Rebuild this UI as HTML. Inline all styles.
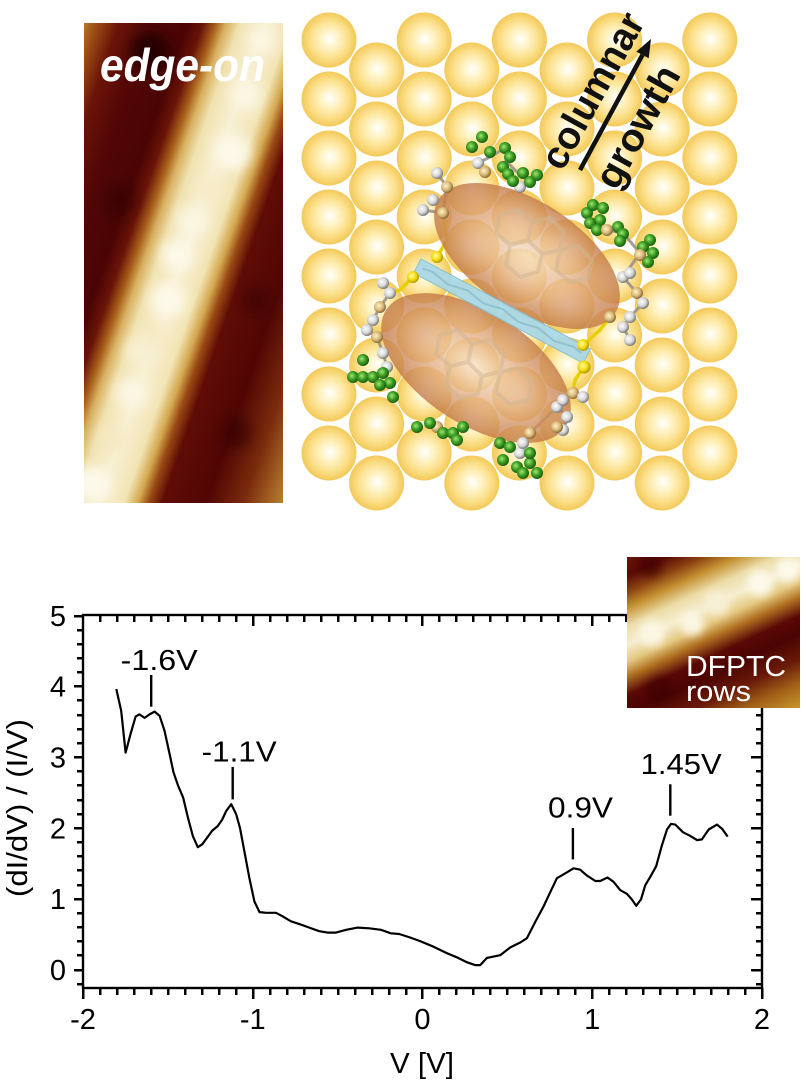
<!DOCTYPE html>
<html><head><meta charset="utf-8">
<style>
html,body{margin:0;padding:0;background:#fff;}
svg{display:block;}
text{font-family:"Liberation Sans",Arial,sans-serif;}
</style></head><body>
<svg width="806" height="1090" viewBox="0 0 806 1090" xmlns="http://www.w3.org/2000/svg" xmlns:xlink="http://www.w3.org/1999/xlink">
<defs>
 <radialGradient id="au" cx="0.5" cy="0.5" r="0.5" fx="0.52" fy="0.48">
  <stop offset="0" stop-color="#ffffff"/>
  <stop offset="0.12" stop-color="#fffbe8"/>
  <stop offset="0.38" stop-color="#fff0bc"/>
  <stop offset="0.68" stop-color="#fbe08c"/>
  <stop offset="0.9" stop-color="#f6d068"/>
  <stop offset="1" stop-color="#f2c858"/>
 </radialGradient>
 <circle id="s" r="27.5" fill="url(#au)"/>
 <radialGradient id="el" cx="0.5" cy="0.5" r="0.5">
  <stop offset="0" stop-color="#f6e0c6"/>
  <stop offset="0.5" stop-color="#e4b086"/>
  <stop offset="1" stop-color="#c27a48"/>
 </radialGradient>
 <radialGradient id="gr" cx="0.4" cy="0.4" r="0.6">
  <stop offset="0" stop-color="#9ee870"/>
  <stop offset="0.55" stop-color="#3c9c24"/>
  <stop offset="1" stop-color="#1a5e10"/>
 </radialGradient>
 <radialGradient id="wh" cx="0.4" cy="0.4" r="0.6">
  <stop offset="0" stop-color="#ffffff"/>
  <stop offset="0.6" stop-color="#d6d6d6"/>
  <stop offset="1" stop-color="#7a7a7a"/>
 </radialGradient>
 <radialGradient id="tn" cx="0.4" cy="0.4" r="0.6">
  <stop offset="0" stop-color="#fff2c8"/>
  <stop offset="0.6" stop-color="#d8b878"/>
  <stop offset="1" stop-color="#8a6a38"/>
 </radialGradient>
 <radialGradient id="ye" cx="0.4" cy="0.4" r="0.6">
  <stop offset="0" stop-color="#fffaa0"/>
  <stop offset="0.6" stop-color="#f2dc10"/>
  <stop offset="1" stop-color="#b09a00"/>
 </radialGradient>
 <circle id="G" r="6" fill="url(#gr)"/>
 <circle id="W" r="6" fill="url(#wh)"/>
 <circle id="T" r="6" fill="url(#tn)"/>

 <clipPath id="c1"><rect x="84" y="23" width="199" height="480"/></clipPath>
 <linearGradient id="stm1" gradientUnits="userSpaceOnUse" x1="84" y1="23" x2="410" y2="136">
  <stop offset="0" stop-color="#b87828"/>
  <stop offset="0.038" stop-color="#9a4a14"/>
  <stop offset="0.096" stop-color="#6a1408"/>
  <stop offset="0.183" stop-color="#520606"/>
  <stop offset="0.284" stop-color="#4a0404"/>
  <stop offset="0.327" stop-color="#6a1408"/>
  <stop offset="0.362" stop-color="#a8601a"/>
  <stop offset="0.39" stop-color="#d8b060"/>
  <stop offset="0.428" stop-color="#f0e2b0"/>
  <stop offset="0.495" stop-color="#f8f0d4"/>
  <stop offset="0.565" stop-color="#f2e4b4"/>
  <stop offset="0.603" stop-color="#d4a850"/>
  <stop offset="0.632" stop-color="#9a4a14"/>
  <stop offset="0.67" stop-color="#600c06"/>
  <stop offset="0.79" stop-color="#500604"/>
  <stop offset="0.89" stop-color="#7a2a0c"/>
  <stop offset="1" stop-color="#b88030"/>
 </linearGradient>
 <clipPath id="c2"><rect x="627" y="557" width="173" height="151"/></clipPath>
 <linearGradient id="stm2" gradientUnits="userSpaceOnUse" x1="627" y1="557" x2="715.1" y2="747.2">
  <stop offset="0" stop-color="#6a1408"/>
  <stop offset="0.08" stop-color="#5a0a05"/>
  <stop offset="0.15" stop-color="#8a4010"/>
  <stop offset="0.22" stop-color="#c49030"/>
  <stop offset="0.30" stop-color="#ecdca8"/>
  <stop offset="0.38" stop-color="#f6eed0"/>
  <stop offset="0.455" stop-color="#e4c880"/>
  <stop offset="0.52" stop-color="#b07020"/>
  <stop offset="0.60" stop-color="#5a0806"/>
  <stop offset="0.68" stop-color="#4a0403"/>
  <stop offset="0.79" stop-color="#6a1a08"/>
  <stop offset="0.89" stop-color="#a06018"/>
  <stop offset="1" stop-color="#c8962c"/>
 </linearGradient>
 <filter id="bl" x="-50%" y="-50%" width="200%" height="200%"><feGaussianBlur stdDeviation="6"/></filter>
 <filter id="bl2" x="-50%" y="-50%" width="200%" height="200%"><feGaussianBlur stdDeviation="4"/></filter>
</defs>

<!-- ===== Left STM image ===== -->
<g clip-path="url(#c1)">
 <rect x="84" y="23" width="199" height="480" fill="url(#stm1)"/>
 <g filter="url(#bl)">
  <circle cx="150" cy="52" r="20" fill="#1e0000" opacity="0.85"/>
  <circle cx="120" cy="200" r="16" fill="#2a0000" opacity="0.4"/>
  <circle cx="255" cy="300" r="14" fill="#2a0000" opacity="0.4"/>
  <circle cx="236" cy="433" r="16" fill="#2a0000" opacity="0.5"/>
  <circle cx="262" cy="40" r="14" fill="#fbf6e2"/>
  <circle cx="246" cy="95" r="16" fill="#fbf6e2"/>
  <circle cx="232" cy="152" r="18" fill="#fdf9ea"/>
  <circle cx="210" cy="190" r="13" fill="#f6ecc8"/>
  <circle cx="193" cy="222" r="16" fill="#fbf6e2"/>
  <circle cx="178" cy="255" r="16" fill="#fdf9ea"/>
  <circle cx="168" cy="300" r="17" fill="#fdf9ea"/>
  <circle cx="150" cy="335" r="12" fill="#f4e8c0"/>
  <circle cx="140" cy="352" r="14" fill="#f8f0d4"/>
  <circle cx="132" cy="393" r="16" fill="#fbf6e2"/>
  <circle cx="112" cy="440" r="12" fill="#f4e8c0"/>
  <circle cx="93" cy="484" r="18" fill="#fdf9ea"/>
 </g>
</g>
<text x="100" y="81" font-size="46" font-weight="bold" font-style="italic" fill="#fff" textLength="165" lengthAdjust="spacingAndGlyphs">edge-on</text>

<!-- ===== Gold spheres ===== -->
<g>
 <use href="#s" x="329" y="40"/><use href="#s" x="424.2" y="40"/><use href="#s" x="519.4" y="40"/><use href="#s" x="614.6" y="40"/><use href="#s" x="709.8" y="40"/>
 <use href="#s" x="376.6" y="70"/><use href="#s" x="471.8" y="70"/><use href="#s" x="567" y="70"/><use href="#s" x="662.2" y="70"/>
 <use href="#s" x="329" y="99"/><use href="#s" x="424.2" y="99"/><use href="#s" x="519.4" y="99"/><use href="#s" x="614.6" y="99"/><use href="#s" x="709.8" y="99"/>
 <use href="#s" x="376.6" y="129"/><use href="#s" x="471.8" y="129"/><use href="#s" x="567" y="129"/><use href="#s" x="662.2" y="129"/>
 <use href="#s" x="329" y="158"/><use href="#s" x="424.2" y="158"/><use href="#s" x="519.4" y="158"/><use href="#s" x="614.6" y="158"/><use href="#s" x="709.8" y="158"/>
 <use href="#s" x="376.6" y="188"/><use href="#s" x="471.8" y="188"/><use href="#s" x="567" y="188"/><use href="#s" x="662.2" y="188"/>
 <use href="#s" x="329" y="217"/><use href="#s" x="424.2" y="217"/><use href="#s" x="519.4" y="217"/><use href="#s" x="614.6" y="217"/><use href="#s" x="709.8" y="217"/>
 <use href="#s" x="376.6" y="247"/><use href="#s" x="471.8" y="247"/><use href="#s" x="567" y="247"/><use href="#s" x="662.2" y="247"/>
 <use href="#s" x="329" y="276"/><use href="#s" x="424.2" y="276"/><use href="#s" x="519.4" y="276"/><use href="#s" x="614.6" y="276"/><use href="#s" x="709.8" y="276"/>
 <use href="#s" x="376.6" y="306"/><use href="#s" x="471.8" y="306"/><use href="#s" x="567" y="306"/><use href="#s" x="662.2" y="306"/>
 <use href="#s" x="329" y="335"/><use href="#s" x="424.2" y="335"/><use href="#s" x="519.4" y="335"/><use href="#s" x="614.6" y="335"/><use href="#s" x="709.8" y="335"/>
 <use href="#s" x="376.6" y="365"/><use href="#s" x="471.8" y="365"/><use href="#s" x="567" y="365"/><use href="#s" x="662.2" y="365"/>
 <use href="#s" x="329" y="394"/><use href="#s" x="424.2" y="394"/><use href="#s" x="519.4" y="394"/><use href="#s" x="614.6" y="394"/><use href="#s" x="709.8" y="394"/>
 <use href="#s" x="376.6" y="424"/><use href="#s" x="471.8" y="424"/><use href="#s" x="567" y="424"/><use href="#s" x="662.2" y="424"/>
 <use href="#s" x="329" y="453"/><use href="#s" x="424.2" y="453"/><use href="#s" x="519.4" y="453"/><use href="#s" x="614.6" y="453"/><use href="#s" x="709.8" y="453"/>
 <use href="#s" x="376.6" y="483"/><use href="#s" x="471.8" y="483"/><use href="#s" x="567" y="483"/><use href="#s" x="662.2" y="483"/>
</g>

<!-- ===== Molecule ===== -->
<g>
 <g stroke="#9a9488" stroke-width="3" fill="none" opacity="0.9">
  <polyline points="437,173 447,187 443,213 423,210"/>
  <polyline points="478,163 490,157 505,148"/>
  <polyline points="505,160 520,175 530,182"/>
  <polyline points="590,223 607,230 623,233 640,253 623,277 637,293 643,303 630,317 623,327 630,340"/>
  <polyline points="383,283 390,293 380,307 373,320 367,330 377,337 383,353 387,367"/>
  <polyline points="437,427 443,433 456,440"/>
  <polyline points="520,453 523,443 530,433 557,407 563,400 573,393 583,397"/>
  <polyline points="557,407 567,417 563,430"/>
 </g>
 <g stroke="#e6d000" stroke-width="3.5" fill="none">
  <polyline points="437,257 447,240 443,213"/>
  <polyline points="413,277 400,290 390,293"/>
  <polyline points="583,345 600,330 610,317"/>
  <polyline points="584,367 575,380 573,393"/>
 </g>
 <ellipse cx="527" cy="256" rx="105" ry="54" transform="rotate(33 527 256)" fill="url(#el)" opacity="0.8"/>
 <ellipse cx="476" cy="368" rx="107" ry="56" transform="rotate(33 476 368)" fill="url(#el)" opacity="0.8"/>
 <g stroke="#d0b696" stroke-width="4" fill="none" opacity="0.5" stroke-linejoin="round">
  <polygon points="500,215 518,210 532,222 528,240 510,245 496,233"/>
  <polygon points="532,222 550,218 564,232 560,250 542,254 528,240"/>
  <polygon points="510,245 528,240 542,254 538,272 520,277 506,265"/>
  <polygon points="560,250 578,246 592,260 588,278 570,282 556,270"/>
  <polygon points="440,335 458,330 472,344 468,362 450,366 436,354"/>
  <polygon points="472,344 490,340 504,354 500,372 482,376 468,362"/>
  <polygon points="450,366 468,362 482,376 478,394 460,398 446,386"/>
  <polygon points="500,372 518,368 532,382 528,400 510,404 496,392"/>
 </g>
 <g transform="translate(502 311) rotate(28)">
  <rect x="-96" y="-8" width="192" height="16" fill="#a8d8e8" stroke="#84bccf" stroke-width="1" opacity="0.92"/>
  <polyline points="-90,0 -80,-2 -70,0 -60,2 -50,0 -40,-2 -30,0 -20,2 -10,0 0,-2 10,0 20,2 30,0 40,-2 50,0 60,2 70,0 80,-2 90,0" stroke="#86b8c8" stroke-width="2" fill="none" opacity="0.7"/>
 </g>
 <circle cx="437" cy="257" r="6" fill="url(#ye)"/>
 <circle cx="413" cy="277" r="6" fill="url(#ye)"/>
 <circle cx="583" cy="345" r="6" fill="url(#ye)"/>
 <circle cx="584" cy="367" r="6.5" fill="url(#ye)"/>
 <use href="#W" x="478" y="163"/><use href="#T" x="485" y="172"/><use href="#W" x="520" y="187"/>
 <use href="#G" x="472" y="147"/><use href="#G" x="482" y="137"/><use href="#G" x="490" y="152"/><use href="#G" x="505" y="148"/>
 <use href="#G" x="510" y="157"/><use href="#G" x="503" y="167"/><use href="#G" x="508" y="174"/><use href="#G" x="523" y="173"/>
 <use href="#G" x="537" y="175"/><use href="#G" x="530" y="182"/><use href="#G" x="513" y="181"/>
 <use href="#W" x="437" y="173"/><use href="#T" x="447" y="187"/><use href="#W" x="423" y="210"/><use href="#W" x="433" y="200"/><use href="#T" x="443" y="213"/>
 <use href="#G" x="587" y="213"/><use href="#G" x="593" y="205"/><use href="#G" x="603" y="208"/><use href="#G" x="600" y="220"/>
 <use href="#G" x="590" y="223"/><use href="#G" x="597" y="230"/><use href="#G" x="618" y="227"/><use href="#G" x="623" y="234"/>
 <use href="#G" x="620" y="241"/><use href="#G" x="650" y="240"/><use href="#G" x="653" y="253"/><use href="#G" x="643" y="247"/><use href="#G" x="648" y="262"/>
 <use href="#T" x="607" y="230"/><use href="#T" x="640" y="255"/>
 <use href="#W" x="623" y="277"/><use href="#W" x="630" y="273"/><use href="#T" x="637" y="293"/><use href="#W" x="643" y="303"/>
 <use href="#W" x="630" y="317"/><use href="#W" x="623" y="327"/><use href="#W" x="630" y="340"/><use href="#T" x="610" y="317"/>
 <use href="#W" x="383" y="283"/><use href="#W" x="390" y="293"/><use href="#T" x="380" y="307"/><use href="#W" x="373" y="320"/>
 <use href="#W" x="367" y="330"/><use href="#T" x="377" y="337"/><use href="#W" x="383" y="353"/><use href="#W" x="387" y="367"/>
 <use href="#G" x="363" y="360"/><use href="#G" x="353" y="377"/><use href="#G" x="363" y="377"/><use href="#G" x="373" y="377"/>
 <use href="#G" x="383" y="373"/><use href="#G" x="390" y="383"/><use href="#G" x="393" y="397"/><use href="#G" x="380" y="385"/>
 <use href="#T" x="437" y="427"/>
 <use href="#G" x="417" y="427"/><use href="#G" x="430" y="423"/><use href="#G" x="443" y="433"/><use href="#G" x="453" y="433"/>
 <use href="#G" x="457" y="440"/><use href="#G" x="463" y="427"/>
 <use href="#W" x="520" y="453"/><use href="#W" x="523" y="443"/><use href="#T" x="530" y="433"/>
 <use href="#G" x="500" y="443"/><use href="#G" x="510" y="447"/><use href="#G" x="503" y="460"/><use href="#G" x="517" y="467"/>
 <use href="#G" x="530" y="463"/><use href="#G" x="537" y="473"/><use href="#G" x="523" y="473"/><use href="#G" x="530" y="453"/>
 <use href="#W" x="557" y="407"/><use href="#W" x="563" y="400"/><use href="#T" x="573" y="393"/><use href="#W" x="583" y="397"/>
 <use href="#W" x="567" y="417"/><use href="#W" x="563" y="430"/><use href="#T" x="557" y="427"/>
</g>

<text transform="translate(604 97) rotate(-61)" text-anchor="middle" font-size="39" font-weight="bold" fill="#111" textLength="172" lengthAdjust="spacingAndGlyphs">columnar</text>
<text transform="translate(649 133) rotate(-61)" text-anchor="middle" font-size="39" font-weight="bold" fill="#111" textLength="134" lengthAdjust="spacingAndGlyphs">growth</text>
<line x1="580" y1="170" x2="642.5" y2="54.9" stroke="#111" stroke-width="4.5"/>
<polygon points="651,39 648.7,58.2 636.3,51.6" fill="#111"/>

<!-- ===== Chart ===== -->
<g stroke="#000" stroke-width="2.5" shape-rendering="crispEdges">
 <!-- bottom minor -->
 <line x1="100" y1="988" x2="100" y2="995"/><line x1="117" y1="988" x2="117" y2="995"/><line x1="134" y1="988" x2="134" y2="995"/><line x1="151" y1="988" x2="151" y2="995"/><line x1="168" y1="988" x2="168" y2="995"/><line x1="185" y1="988" x2="185" y2="995"/><line x1="202" y1="988" x2="202" y2="995"/><line x1="219" y1="988" x2="219" y2="995"/><line x1="236" y1="988" x2="236" y2="995"/>
 <line x1="270" y1="988" x2="270" y2="995"/><line x1="287" y1="988" x2="287" y2="995"/><line x1="304" y1="988" x2="304" y2="995"/><line x1="321" y1="988" x2="321" y2="995"/><line x1="338" y1="988" x2="338" y2="995"/><line x1="355" y1="988" x2="355" y2="995"/><line x1="372" y1="988" x2="372" y2="995"/><line x1="389" y1="988" x2="389" y2="995"/><line x1="406" y1="988" x2="406" y2="995"/>
 <line x1="439" y1="988" x2="439" y2="995"/><line x1="456" y1="988" x2="456" y2="995"/><line x1="473" y1="988" x2="473" y2="995"/><line x1="490" y1="988" x2="490" y2="995"/><line x1="507" y1="988" x2="507" y2="995"/><line x1="524" y1="988" x2="524" y2="995"/><line x1="541" y1="988" x2="541" y2="995"/><line x1="558" y1="988" x2="558" y2="995"/><line x1="575" y1="988" x2="575" y2="995"/>
 <line x1="609" y1="988" x2="609" y2="995"/><line x1="626" y1="988" x2="626" y2="995"/><line x1="643" y1="988" x2="643" y2="995"/><line x1="660" y1="988" x2="660" y2="995"/><line x1="677" y1="988" x2="677" y2="995"/><line x1="694" y1="988" x2="694" y2="995"/><line x1="711" y1="988" x2="711" y2="995"/><line x1="728" y1="988" x2="728" y2="995"/><line x1="745" y1="988" x2="745" y2="995"/>
 <!-- top minor -->
 <line x1="100" y1="615" x2="100" y2="622"/><line x1="117" y1="615" x2="117" y2="622"/><line x1="134" y1="615" x2="134" y2="622"/><line x1="151" y1="615" x2="151" y2="622"/><line x1="168" y1="615" x2="168" y2="622"/><line x1="185" y1="615" x2="185" y2="622"/><line x1="202" y1="615" x2="202" y2="622"/><line x1="219" y1="615" x2="219" y2="622"/><line x1="236" y1="615" x2="236" y2="622"/>
 <line x1="270" y1="615" x2="270" y2="622"/><line x1="287" y1="615" x2="287" y2="622"/><line x1="304" y1="615" x2="304" y2="622"/><line x1="321" y1="615" x2="321" y2="622"/><line x1="338" y1="615" x2="338" y2="622"/><line x1="355" y1="615" x2="355" y2="622"/><line x1="372" y1="615" x2="372" y2="622"/><line x1="389" y1="615" x2="389" y2="622"/><line x1="406" y1="615" x2="406" y2="622"/>
 <line x1="439" y1="615" x2="439" y2="622"/><line x1="456" y1="615" x2="456" y2="622"/><line x1="473" y1="615" x2="473" y2="622"/><line x1="490" y1="615" x2="490" y2="622"/><line x1="507" y1="615" x2="507" y2="622"/><line x1="524" y1="615" x2="524" y2="622"/><line x1="541" y1="615" x2="541" y2="622"/><line x1="558" y1="615" x2="558" y2="622"/><line x1="575" y1="615" x2="575" y2="622"/>
 <line x1="609" y1="615" x2="609" y2="622"/><line x1="626" y1="615" x2="626" y2="622"/>
 <!-- left minor -->
 <line x1="77" y1="630" x2="83" y2="630"/><line x1="77" y1="644" x2="83" y2="644"/><line x1="77" y1="658" x2="83" y2="658"/><line x1="77" y1="672" x2="83" y2="672"/>
 <line x1="77" y1="700" x2="83" y2="700"/><line x1="77" y1="715" x2="83" y2="715"/><line x1="77" y1="729" x2="83" y2="729"/><line x1="77" y1="743" x2="83" y2="743"/>
 <line x1="77" y1="771" x2="83" y2="771"/><line x1="77" y1="785" x2="83" y2="785"/><line x1="77" y1="800" x2="83" y2="800"/><line x1="77" y1="814" x2="83" y2="814"/>
 <line x1="77" y1="842" x2="83" y2="842"/><line x1="77" y1="856" x2="83" y2="856"/><line x1="77" y1="870" x2="83" y2="870"/><line x1="77" y1="885" x2="83" y2="885"/>
 <line x1="77" y1="913" x2="83" y2="913"/><line x1="77" y1="927" x2="83" y2="927"/><line x1="77" y1="941" x2="83" y2="941"/><line x1="77" y1="955" x2="83" y2="955"/>
 <line x1="77" y1="984" x2="83" y2="984"/>
 <!-- right minor -->
 <line x1="756" y1="715" x2="762" y2="715"/><line x1="756" y1="729" x2="762" y2="729"/><line x1="756" y1="743" x2="762" y2="743"/>
 <line x1="756" y1="771" x2="762" y2="771"/><line x1="756" y1="785" x2="762" y2="785"/><line x1="756" y1="800" x2="762" y2="800"/><line x1="756" y1="814" x2="762" y2="814"/>
 <line x1="756" y1="842" x2="762" y2="842"/><line x1="756" y1="856" x2="762" y2="856"/><line x1="756" y1="870" x2="762" y2="870"/><line x1="756" y1="885" x2="762" y2="885"/>
 <line x1="756" y1="913" x2="762" y2="913"/><line x1="756" y1="927" x2="762" y2="927"/><line x1="756" y1="941" x2="762" y2="941"/><line x1="756" y1="955" x2="762" y2="955"/>
 <line x1="756" y1="984" x2="762" y2="984"/>
 <!-- majors -->
 <line x1="83" y1="988" x2="83" y2="999"/><line x1="253" y1="988" x2="253" y2="999"/><line x1="422" y1="988" x2="422" y2="999"/><line x1="592" y1="988" x2="592" y2="999"/><line x1="762" y1="988" x2="762" y2="999"/>
 <line x1="253" y1="615" x2="253" y2="626"/><line x1="422" y1="615" x2="422" y2="626"/><line x1="592" y1="615" x2="592" y2="626"/>
 <line x1="74" y1="616" x2="83" y2="616"/><line x1="74" y1="686" x2="83" y2="686"/><line x1="74" y1="757" x2="83" y2="757"/><line x1="74" y1="828" x2="83" y2="828"/><line x1="74" y1="899" x2="83" y2="899"/><line x1="74" y1="970" x2="83" y2="970"/>
 <line x1="751" y1="757" x2="762" y2="757"/><line x1="751" y1="828" x2="762" y2="828"/><line x1="751" y1="899" x2="762" y2="899"/><line x1="751" y1="970" x2="762" y2="970"/>
</g>
<rect x="83" y="615" width="679" height="373" fill="none" stroke="#000" stroke-width="2.4"/>

<polyline fill="none" stroke="#000" stroke-width="2.2" stroke-linejoin="round" points="116.3,689.0 121.2,710.9 125.6,752.6 130.5,734.2 135.6,716.5 139.5,714.4 144.6,717.9 149.5,714.4 154.6,711.6 159.6,715.8 164.5,730.7 169.6,754.0 173.5,772.3 178.1,785.7 183.2,797.7 187.9,817.5 192.8,835.9 197.8,847.2 202.2,844.3 206.9,838.0 212.0,830.9 217.8,826.0 222.2,819.6 226.1,811.2 231.2,804.1 236.1,814.0 240.0,828.1 244.4,851.4 249.4,878.2 254.4,901.5 259.5,912.1 266.3,912.8 276.0,912.8 282.6,916.3 290.9,921.3 299.4,924.1 309.3,927.6 319.3,931.2 327.6,932.6 335.9,932.6 346.1,929.8 357.7,927.6 369.2,928.3 380.9,929.8 390.9,933.3 399.2,934.0 410.1,937.5 420.1,941.1 433.5,946.7 446.8,953.1 456.8,957.3 466.8,962.2 475.1,965.1 480.2,965.1 486.8,958.0 493.5,956.6 500.2,955.2 510.3,947.4 520.3,942.5 526.9,938.2 535.2,922.0 543.5,906.5 550.2,892.3 556.9,878.2 565.3,873.3 573.6,868.3 580.2,869.7 586.8,875.4 595.3,881.0 600.2,881.0 607.5,877.5 613.5,881.8 620.3,890.2 626.9,893.8 631.8,899.4 636.2,905.8 641.0,899.4 645.2,885.3 650.3,876.8 656.2,866.2 661.8,845.7 667.0,829.5 671.0,823.9 675.3,824.6 683.1,832.3 690.2,835.9 697.0,840.1 701.9,839.4 708.7,829.5 717.0,824.6 722.1,828.8 727.7,836.6"/>

<g stroke="#000" stroke-width="2.4">
 <line x1="151.2" y1="675" x2="151.2" y2="706.7"/>
 <line x1="232.7" y1="767" x2="232.7" y2="799.4"/>
 <line x1="572.9" y1="828" x2="572.9" y2="859.4"/>
 <line x1="670.3" y1="784.3" x2="670.3" y2="815.7"/>
</g>
<g font-size="29" fill="#000">
 <text x="120.7" y="670" textLength="77" lengthAdjust="spacingAndGlyphs">-1.6V</text>
 <text x="201.7" y="761.6" textLength="75" lengthAdjust="spacingAndGlyphs">-1.1V</text>
 <text x="548" y="817.5" textLength="65" lengthAdjust="spacingAndGlyphs">0.9V</text>
 <text x="640.7" y="773.8" textLength="81" lengthAdjust="spacingAndGlyphs">1.45V</text>
</g>

<g font-size="29" fill="#000" text-anchor="end">
 <text x="66" y="626">5</text>
 <text x="66" y="696.7">4</text>
 <text x="66" y="767.5">3</text>
 <text x="66" y="838.3">2</text>
 <text x="66" y="909">1</text>
 <text x="66" y="980">0</text>
</g>
<g font-size="29" fill="#000" text-anchor="middle">
 <text x="83" y="1029">-2</text>
 <text x="252.75" y="1029">-1</text>
 <text x="422.5" y="1029">0</text>
 <text x="592.25" y="1029">1</text>
 <text x="762" y="1029">2</text>
 <text x="422" y="1073" textLength="64" lengthAdjust="spacingAndGlyphs">V [V]</text>
</g>
<text transform="translate(27 808) rotate(-90)" text-anchor="middle" font-size="29" fill="#000" textLength="178" lengthAdjust="spacingAndGlyphs">(dI/dV) / (I/V)</text>

<!-- ===== Inset STM ===== -->
<g clip-path="url(#c2)">
 <rect x="627" y="557" width="173" height="151" fill="url(#stm2)"/>
 <g filter="url(#bl2)">
  <circle cx="652" cy="633" r="13" fill="#fbf6e2"/>
  <circle cx="692" cy="623" r="12" fill="#fbf6e2"/>
  <circle cx="717" cy="603" r="12" fill="#f8f0d6"/>
  <circle cx="760" cy="583" r="13" fill="#fdf9ea"/>
  <circle cx="788" cy="570" r="12" fill="#fdf9ea"/>
  <circle cx="650" cy="565" r="12" fill="#3a0200" opacity="0.6"/>
  <circle cx="660" cy="690" r="14" fill="#3a0200" opacity="0.5"/>
 </g>
</g>
<text x="686" y="676" font-size="29" fill="#fff" textLength="100" lengthAdjust="spacingAndGlyphs">DFPTC</text>
<text x="686" y="701" font-size="29" fill="#fff" textLength="65" lengthAdjust="spacingAndGlyphs">rows</text>
</svg>
</body></html>
